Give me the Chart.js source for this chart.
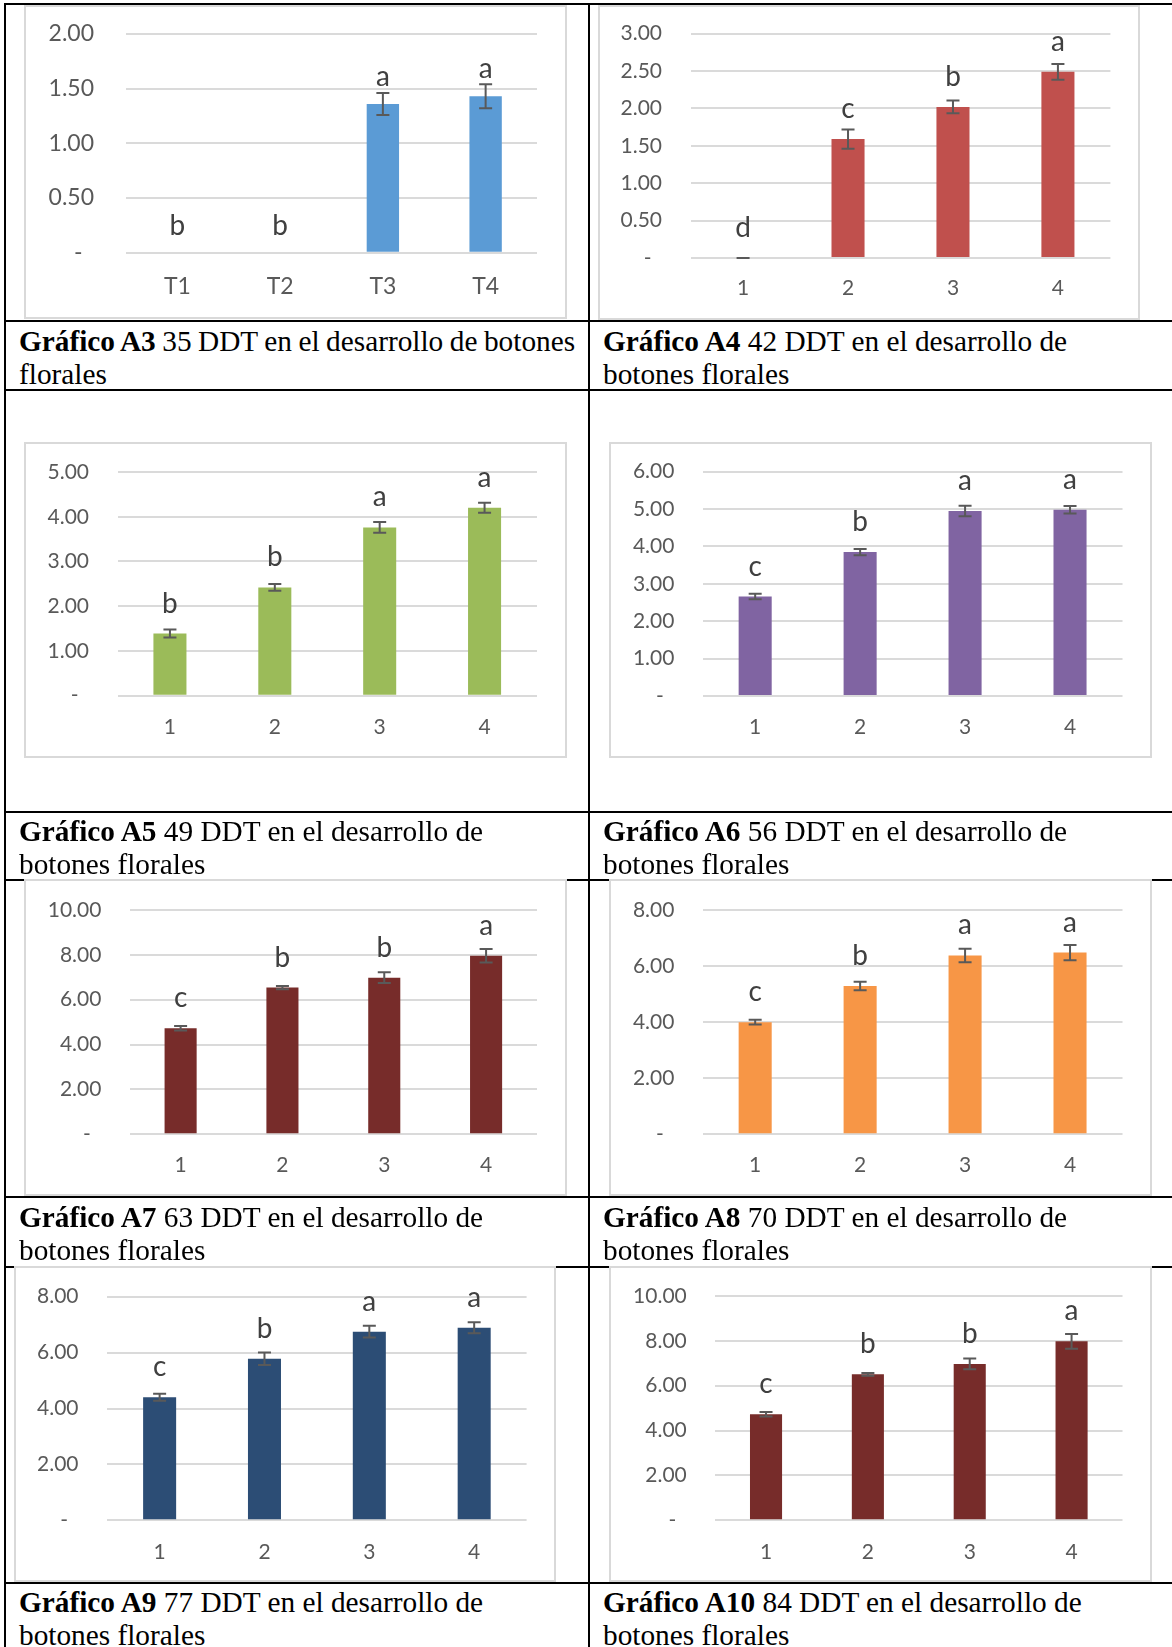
<!DOCTYPE html>
<html lang="es">
<head>
<meta charset="utf-8">
<title>Desarrollo de botones florales</title>
<script src="https://cdn.jsdelivr.net/npm/chart.js@4.4.1/dist/chart.umd.min.js"></script>
<style>
  html, body { margin: 0; padding: 0; background: #fff; }
  body { width: 1172px; height: 1647px; position: relative; overflow: hidden; }
  .hl { position: absolute; left: 4px; right: 0; height: 2px; background: #000; }
  .vl { position: absolute; top: 3px; bottom: 0; width: 2px; background: #000; }
  .box { position: absolute; background: #fff; border: 2px solid #d9d9d9; box-sizing: border-box; }
  .box canvas { position: absolute; left: -2px; top: -2px; }
  .cap { position: absolute; font-family: "Liberation Serif", "Times New Roman", serif;
         font-size: 29.3px; line-height: 33.2px; color: #000; white-space: nowrap; }
  .cap b { font-weight: bold; }
</style>
</head>
<body>

<!-- table rules -->
<div class="hl" style="top:3px"></div>
<div class="hl" style="top:320px"></div>
<div class="hl" style="top:389px"></div>
<div class="hl" style="top:811px"></div>
<div class="hl" style="top:879px"></div>
<div class="hl" style="top:1196px"></div>
<div class="hl" style="top:1266px"></div>
<div class="hl" style="top:1582px"></div>
<div class="vl" style="left:4px"></div>
<div class="vl" style="left:588px"></div>

<!-- chart frames -->
<div class="box" style="left:24px;top:5px;width:543px;height:314px"><canvas id="cA3"></canvas></div>
<div class="box" style="left:598px;top:5px;width:542px;height:315px"><canvas id="cA4"></canvas></div>
<div class="box" style="left:24px;top:442px;width:543px;height:316px"><canvas id="cA5"></canvas></div>
<div class="box" style="left:609px;top:442px;width:543px;height:316px"><canvas id="cA6"></canvas></div>
<div class="box" style="left:24px;top:879px;width:543px;height:317px"><canvas id="cA7"></canvas></div>
<div class="box" style="left:609px;top:879px;width:543px;height:317px"><canvas id="cA8"></canvas></div>
<div class="box" style="left:14px;top:1266px;width:542px;height:316px"><canvas id="cA9"></canvas></div>
<div class="box" style="left:609px;top:1266px;width:543px;height:316px"><canvas id="cA10"></canvas></div>

<!-- captions -->
<div class="cap" style="left:19px;top:324.8px"><span style="word-spacing:-0.8px"><b>Gráfico A3</b> 35 DDT en el desarrollo de botones</span><br>florales</div>
<div class="cap" style="left:603px;top:324.8px"><b>Gráfico A4</b> 42 DDT en el desarrollo de<br>botones florales</div>
<div class="cap" style="left:19px;top:814.8px"><b>Gráfico A5</b> 49 DDT en el desarrollo de<br>botones florales</div>
<div class="cap" style="left:603px;top:814.8px"><b>Gráfico A6</b> 56 DDT en el desarrollo de<br>botones florales</div>
<div class="cap" style="left:19px;top:1200.5px"><b>Gráfico A7</b> 63 DDT en el desarrollo de<br>botones florales</div>
<div class="cap" style="left:603px;top:1200.5px"><b>Gráfico A8</b> 70 DDT en el desarrollo de<br>botones florales</div>
<div class="cap" style="left:19px;top:1585.5px"><b>Gráfico A9</b> 77 DDT en el desarrollo de<br>botones florales</div>
<div class="cap" style="left:603px;top:1585.5px"><b>Gráfico A10</b> 84 DDT en el desarrollo de<br>botones florales</div>

<script>
// ---- data: treatment means, standard errors and significance letters ----
const categoriesT = ['T1', 'T2', 'T3', 'T4'];
const categoriesN = ['1', '2', '3', '4'];

const meansA3   = [0, 0, 1.36, 1.43];
const errorsA3  = [null, null, 0.10, 0.11];
const lettersA3 = ['b', 'b', 'a', 'a'];
const ticksA3   = [0, 0.5, 1, 1.5, 2];

const meansA4   = [0, 1.59, 2.02, 2.49];
const errorsA4  = [0, 0.13, 0.085, 0.105];
const lettersA4 = ['d', 'c', 'b', 'a'];
const ticksA4   = [0, 0.5, 1, 1.5, 2, 2.5, 3];

const meansA5   = [1.39, 2.42, 3.76, 4.20];
const errorsA5  = [0.09, 0.075, 0.12, 0.11];
const lettersA5 = ['b', 'b', 'a', 'a'];
const ticksA5   = [0, 1, 2, 3, 4, 5];

const meansA6   = [2.66, 3.85, 4.95, 4.98];
const errorsA6  = [0.075, 0.085, 0.14, 0.10];
const lettersA6 = ['c', 'b', 'a', 'a'];
const ticksA6   = [0, 1, 2, 3, 4, 5, 6];

const meansA7   = [4.73, 6.54, 6.98, 7.96];
const errorsA7  = [0.10, 0.07, 0.24, 0.30];
const lettersA7 = ['c', 'b', 'b', 'a'];
const ticksA7   = [0, 2, 4, 6, 8, 10];

const meansA8   = [4.00, 5.29, 6.38, 6.48];
const errorsA8  = [0.085, 0.155, 0.24, 0.27];
const lettersA8 = ['c', 'b', 'a', 'a'];
const ticksA8   = [0, 2, 4, 6, 8];

const meansA9   = [4.40, 5.78, 6.75, 6.89];
const errorsA9  = [0.125, 0.22, 0.21, 0.20];
const lettersA9 = ['c', 'b', 'a', 'a'];
const ticksA9   = [0, 2, 4, 6, 8];

const meansA10   = [4.73, 6.51, 6.97, 7.98];
const errorsA10  = [0.10, 0.06, 0.24, 0.33];
const lettersA10 = ['c', 'b', 'b', 'a'];
const ticksA10   = [0, 2, 4, 6, 8, 10];

// ---- drawing ----
Chart.defaults.font.family = 'Lato, "Open Sans", sans-serif';

// Error bars (mean ± SE) and letter labels above each bar
const errorBarsAndLetters = {
  id: 'errorBarsAndLetters',
  afterDatasetsDraw(chart, args, opts) {
    const ctx = chart.ctx;
    const yScale = chart.scales.y;
    const values = chart.data.datasets[0].data;
    const meta = chart.getDatasetMeta(0);
    ctx.save();
    meta.data.forEach((bar, i) => {
      const v = values[i];
      const e = opts.errors[i];
      const x = bar.x;
      if (e !== null && e !== undefined) {
        const yHi = yScale.getPixelForValue(v + e);
        const yLo = yScale.getPixelForValue(v - e);
        ctx.strokeStyle = '#595959';
        ctx.lineWidth = 2;
        ctx.beginPath();
        ctx.moveTo(x, yHi); ctx.lineTo(x, yLo);
        ctx.moveTo(x - opts.cap, yHi); ctx.lineTo(x + opts.cap, yHi);
        ctx.moveTo(x - opts.cap, yLo); ctx.lineTo(x + opts.cap, yLo);
        ctx.stroke();
      }
      ctx.fillStyle = '#404040';
      ctx.font = opts.letterSize + 'px Lato, "Open Sans", sans-serif';
      ctx.textAlign = 'center';
      ctx.textBaseline = 'alphabetic';
      ctx.fillText(opts.letters[i], x, yScale.getPixelForValue(v) - opts.letterGap);
    });
    ctx.restore();
  }
};

function drawChart(spec) {
  const canvas = document.getElementById(spec.id);
  canvas.width = spec.w;
  canvas.height = spec.h;
  const tickFont = { size: spec.font };
  return new Chart(canvas, {
    type: 'bar',
    data: {
      labels: spec.labels,
      datasets: [{
        data: spec.values,
        backgroundColor: spec.color,
        borderWidth: 0,
        barPercentage: 0.315,
        categoryPercentage: 1
      }]
    },
    options: {
      responsive: false,
      animation: false,
      devicePixelRatio: 1,
      events: [],
      layout: { padding: { left: 0, top: spec.top, right: spec.w - spec.right, bottom: 0 } },
      plugins: {
        legend: { display: false },
        tooltip: { enabled: false },
        errorBarsAndLetters: {
          errors: spec.errors, letters: spec.letters,
          cap: 6.5, letterSize: 28, letterGap: spec.letterGap
        }
      },
      scales: {
        x: {
          grid: { display: false, drawTicks: false },
          border: { display: false },
          ticks: { color: '#595959', font: tickFont, padding: spec.xPad },
          afterFit: s => { s.height = spec.h - spec.bottom; }
        },
        y: {
          min: spec.ticks[0],
          max: spec.ticks[spec.ticks.length - 1],
          // invisible tick marks keep the labels clear of the plot area
          grid: { color: '#dadada', lineWidth: 2, drawTicks: true,
                  tickLength: spec.yPad, tickColor: 'rgba(0,0,0,0)' },
          border: { display: false },
          ticks: {
            color: '#595959', font: tickFont, padding: 0,
            callback: v => (v === 0 ? '-\u2002' : Number(v).toFixed(2))
          },
          afterBuildTicks: s => { s.ticks = spec.ticks.map(v => ({ value: v })); },
          afterFit: s => { s.width = spec.left; }
        }
      }
    },
    plugins: [errorBarsAndLetters]
  });
}

drawChart({ id: 'cA3', w: 543, h: 314, left: 102, right: 513, top: 29, bottom: 247.7,
  font: 23, yPad: 32, xPad: 20.5, letterGap: 18,
  labels: categoriesT, values: meansA3, errors: errorsA3, letters: lettersA3, ticks: ticksA3, color: '#5b9bd5' });

drawChart({ id: 'cA4', w: 542, h: 315, left: 92.6, right: 512.4, top: 28.7, bottom: 253,
  font: 21, yPad: 28.6, xPad: 18, letterGap: 21,
  labels: categoriesN, values: meansA4, errors: errorsA4, letters: lettersA4, ticks: ticksA4, color: '#c0504d' });

drawChart({ id: 'cA5', w: 543, h: 316, left: 93.5, right: 513, top: 30, bottom: 253.7,
  font: 21, yPad: 28.5, xPad: 19.4, letterGap: 21,
  labels: categoriesN, values: meansA5, errors: errorsA5, letters: lettersA5, ticks: ticksA5, color: '#9bbb59' });

drawChart({ id: 'cA6', w: 543, h: 316, left: 93.7, right: 513.5, top: 29.7, bottom: 254,
  font: 21, yPad: 28.3, xPad: 19, letterGap: 21,
  labels: categoriesN, values: meansA6, errors: errorsA6, letters: lettersA6, ticks: ticksA6, color: '#8064a2' });

drawChart({ id: 'cA7', w: 543, h: 317, left: 105.7, right: 513, top: 31, bottom: 255.3,
  font: 21, yPad: 28.3, xPad: 18.8, letterGap: 21,
  labels: categoriesN, values: meansA7, errors: errorsA7, letters: lettersA7, ticks: ticksA7, color: '#772c2a' });

drawChart({ id: 'cA8', w: 543, h: 317, left: 93.7, right: 513.5, top: 31, bottom: 255.3,
  font: 21, yPad: 28.3, xPad: 18.8, letterGap: 21,
  labels: categoriesN, values: meansA8, errors: errorsA8, letters: lettersA8, ticks: ticksA8, color: '#f79646' });

drawChart({ id: 'cA9', w: 542, h: 316, left: 93.2, right: 512.6, top: 30.7, bottom: 254.3,
  font: 21, yPad: 28.7, xPad: 19.4, letterGap: 21,
  labels: categoriesN, values: meansA9, errors: errorsA9, letters: lettersA9, ticks: ticksA9, color: '#2c4d75' });

drawChart({ id: 'cA10', w: 543, h: 316, left: 106.1, right: 513.5, top: 30, bottom: 254.3,
  font: 21, yPad: 28.3, xPad: 19.4, letterGap: 21,
  labels: categoriesN, values: meansA10, errors: errorsA10, letters: lettersA10, ticks: ticksA10, color: '#772c2a' });
</script>
</body>
</html>
